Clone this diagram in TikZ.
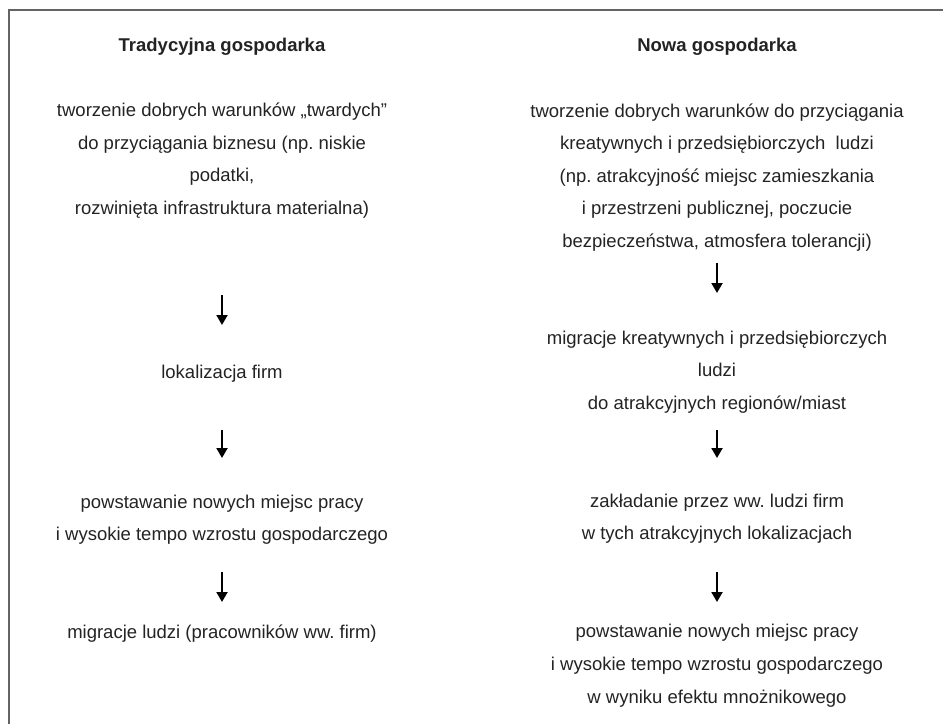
\documentclass[tikz,border=0pt]{standalone}
\usepackage{fontspec}
\setmainfont{Liberation Sans}
\frenchspacing
\usetikzlibrary{arrows.meta}
\definecolor{txtgray}{RGB}{35,35,35}
\definecolor{framegray}{RGB}{100,100,100}
\tikzstyle{stage}=[align=center,inner sep=0pt,anchor=base,text=txtgray,font=\fontsize{18.5}{32.6}\selectfont]
\tikzstyle{head}=[stage,font=\fontsize{18.5}{32.6}\selectfont\bfseries]
\tikzstyle{flow} = [draw,line width=2pt,->]
\tikzstyle{frame} = [draw=framegray,line width=2pt,-]

\begin{document}
\begin{tikzpicture}[x=1pt, y=-1pt, >={Triangle[width=11pt,length=10pt]}]
			\useasboundingbox (0,0) rectangle (943,724);
			\draw [frame] (943,10) -- (9,10) -- (9,724);

			% Tradycyjna gospodarka (base = last line)
			\node [head]  (tradh) at (222,51) {Tradycyjna gospodarka};
			\node [stage] (trad1) at (222,214.3) {tworzenie dobrych warunków „twardych”\\do przyciągania biznesu (np. niskie\\podatki,\\rozwinięta infrastruktura materialna)};
			\node [stage] (trad2) at (222,378) {lokalizacja firm};
			\node [stage] (trad3) at (222,540.6) {powstawanie nowych miejsc pracy\\i wysokie tempo wzrostu gospodarczego};
			\node [stage] (trad4) at (222,638) {migracje ludzi (pracowników ww. firm)};

			% Nowa gospodarka
			\node [head]  (nowah) at (717,51) {Nowa gospodarka};
			\node [stage] (nowa1) at (717,247.5) {tworzenie dobrych warunków do przyciągania\\kreatywnych i przedsiębiorczych\ \ ludzi\\(np. atrakcyjność miejsc zamieszkania\\i przestrzeni publicznej, poczucie\\bezpieczeństwa, atmosfera tolerancji)};
			\node [stage] (nowa2) at (717,409.5) {migracje kreatywnych i przedsiębiorczych\\ludzi\\do atrakcyjnych regionów/miast};
			\node [stage] (nowa3) at (717,539.8) {zakładanie przez ww. ludzi firm\\w tych atrakcyjnych lokalizacjach};
			\node [stage] (nowa4) at (717,703) {powstawanie nowych miejsc pracy\\i wysokie tempo wzrostu gospodarczego\\w wyniku efektu mnożnikowego};

			\coordinate (trad1out) at (222,295);
			\coordinate (trad2in)  at (222,325);
			\coordinate (trad2out) at (222,430);
			\coordinate (trad3in)  at (222,458);
			\coordinate (trad3out) at (222,572);
			\coordinate (trad4in)  at (222,602);
			\coordinate (nowa1out) at (717,263);
			\coordinate (nowa2in)  at (717,293);
			\coordinate (nowa2out) at (717,430);
			\coordinate (nowa3in)  at (717,458);
			\coordinate (nowa3out) at (717,572);
			\coordinate (nowa4in)  at (717,602);

			\draw [flow] (trad1out) -- (trad2in);
			\draw [flow] (trad2out) -- (trad3in);
			\draw [flow] (trad3out) -- (trad4in);
			\draw [flow] (nowa1out) -- (nowa2in);
			\draw [flow] (nowa2out) -- (nowa3in);
			\draw [flow] (nowa3out) -- (nowa4in);
\end{tikzpicture}
\end{document}
